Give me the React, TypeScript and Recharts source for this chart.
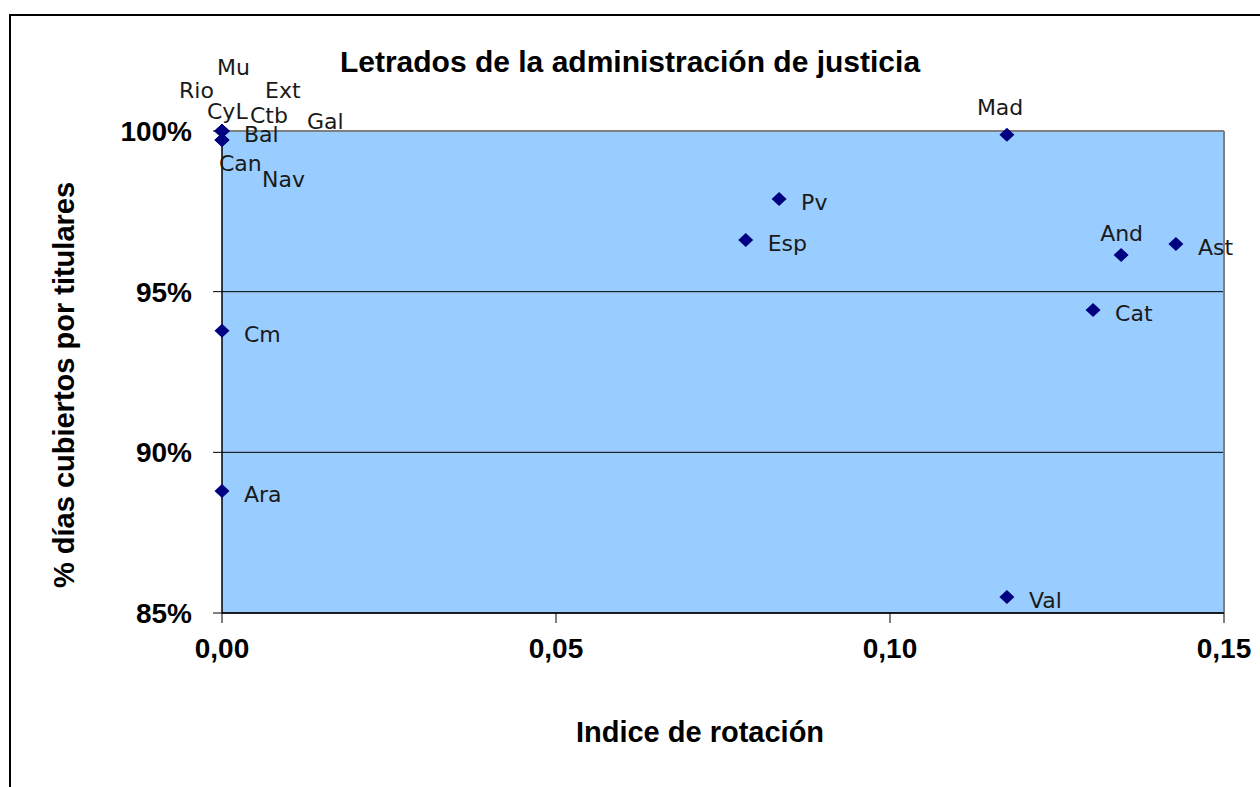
import React from 'react'
import {
  ScatterChart,
  Scatter,
  XAxis,
  YAxis,
  CartesianGrid,
  ReferenceLine,
} from 'recharts'

// comunidades y valores
const regions = ['Mu', 'Rio', 'CyL', 'Ext', 'Ctb', 'Gal', 'Bal', 'Can', 'Nav', 'Mad', 'Pv', 'Esp', 'And', 'Ast', 'Cat', 'Cm', 'Ara', 'Val']
const rotation = [0, 0, 0, 0, 0, 0, 0, 0, 0, 0.1175, 0.0834, 0.0784, 0.1346, 0.1428, 0.1304, 0, 0, 0.1175]
const coverage = [1, 1, 1, 1, 1, 1, 0.9972, 0.9972, 1, 0.9988, 0.9788, 0.9661, 0.9614, 0.9648, 0.9443, 0.9378, 0.888, 0.855]

const xTicks = [0, 0.05, 0.1, 0.15]
const yTicks = [0.85, 0.9, 0.95, 1]

const title = 'Letrados de la administración de justicia'
const xTitle = 'Indice de rotación'
const yTitle = '% días cubiertos por titulares'

// desplazamiento de etiquetas movidas a mano (izquierda del texto, centro vertical)
const DEFAULT_OFFSET: [number, number] = [22, 3]
const LABEL_OFFSETS: Record<string, [number, number]> = {
  Mu: [-5, -64],
  Rio: [-43, -41],
  CyL: [-15, -20],
  Ext: [43, -41],
  Ctb: [28, -16],
  Gal: [85, -10],
  Bal: [22, -6],
  Can: [-3, 23],
  Nav: [40, 48],
  Mad: [-30, -28],
  And: [-21, -22],
}

const data = regions.map((name, i) => ({ name, x: rotation[i], y: coverage[i] }))

const axisFont = { fontFamily: 'Liberation Sans, Arial, sans-serif', fontWeight: 700, fontSize: 28, fill: '#000' }

const Point = (props: any) => {
  const { cx, cy, payload } = props
  if (cx == null || cy == null) return null
  const [dx, dy] = LABEL_OFFSETS[payload.name] ?? DEFAULT_OFFSET
  return (
    <g>
      <polygon
        points={`${cx},${cy - 7} ${cx + 7.5},${cy} ${cx},${cy + 7} ${cx - 7.5},${cy}`}
        fill="#000080"
      />
      <text
        x={cx + dx}
        y={cy + dy + 8}
        fontFamily="DejaVu Sans, Verdana, sans-serif"
        fontSize={22}
        fill="#1a1a1a"
      >
        {payload.name}
      </text>
    </g>
  )
}

export default function App() {
  return (
    <div style={{ position: 'absolute', left: 0, top: 0, width: 1260, height: 787, overflow: 'hidden', background: '#fff' }}>
      <div
        style={{
          position: 'absolute',
          left: 9,
          top: 14,
          width: 1300,
          height: 800,
          borderTop: '2px solid #000',
          borderLeft: '2px solid #000',
        }}
      />
      <div style={{ position: 'absolute', left: 0, top: 0 }}>
        <ScatterChart width={1260} height={787} margin={{ top: 131, right: 36, bottom: 44, left: 62 }}>
          <CartesianGrid vertical={false} stroke="#000" fill="#99CCFF" fillOpacity={1} />
          <XAxis
            type="number"
            dataKey="x"
            domain={[0, 0.15]}
            ticks={xTicks}
            height={130}
            tickSize={10}
            tickMargin={15}
            tickFormatter={(v: number) => v.toFixed(2).replace('.', ',')}
            axisLine={{ stroke: '#000', strokeWidth: 1.5 }}
            tickLine={{ stroke: '#000' }}
            tick={axisFont}
            label={{
              content: () => (
                <text x={700} y={742} textAnchor="middle" {...axisFont} fontSize={29}>
                  {xTitle}
                </text>
              ),
            }}
          />
          <YAxis
            type="number"
            dataKey="y"
            domain={[0.85, 1]}
            ticks={yTicks}
            width={160}
            tickSize={9}
            tickMargin={21}
            tickFormatter={(v: number) => `${Math.round(v * 100)}%`}
            axisLine={{ stroke: '#000', strokeWidth: 1.5 }}
            tickLine={{ stroke: '#000' }}
            tick={axisFont}
            label={{
              content: ({ viewBox }: any) => {
                const cy = viewBox.y + viewBox.height / 2 + 13
                return (
                  <text x={74} y={cy} transform={`rotate(-90, 74, ${cy})`} textAnchor="middle" {...axisFont} fontSize={29}>
                    {yTitle}
                  </text>
                )
              },
            }}
          />
          <ReferenceLine y={1} stroke="#808080" strokeWidth={2} />
          <ReferenceLine x={0.15} stroke="#808080" strokeWidth={2} />
          <Scatter data={data} shape={Point} isAnimationActive={false} />
          <text x={630} y={72} textAnchor="middle" {...axisFont} fontSize={30}>
            {title}
          </text>
        </ScatterChart>
      </div>
    </div>
  )
}
